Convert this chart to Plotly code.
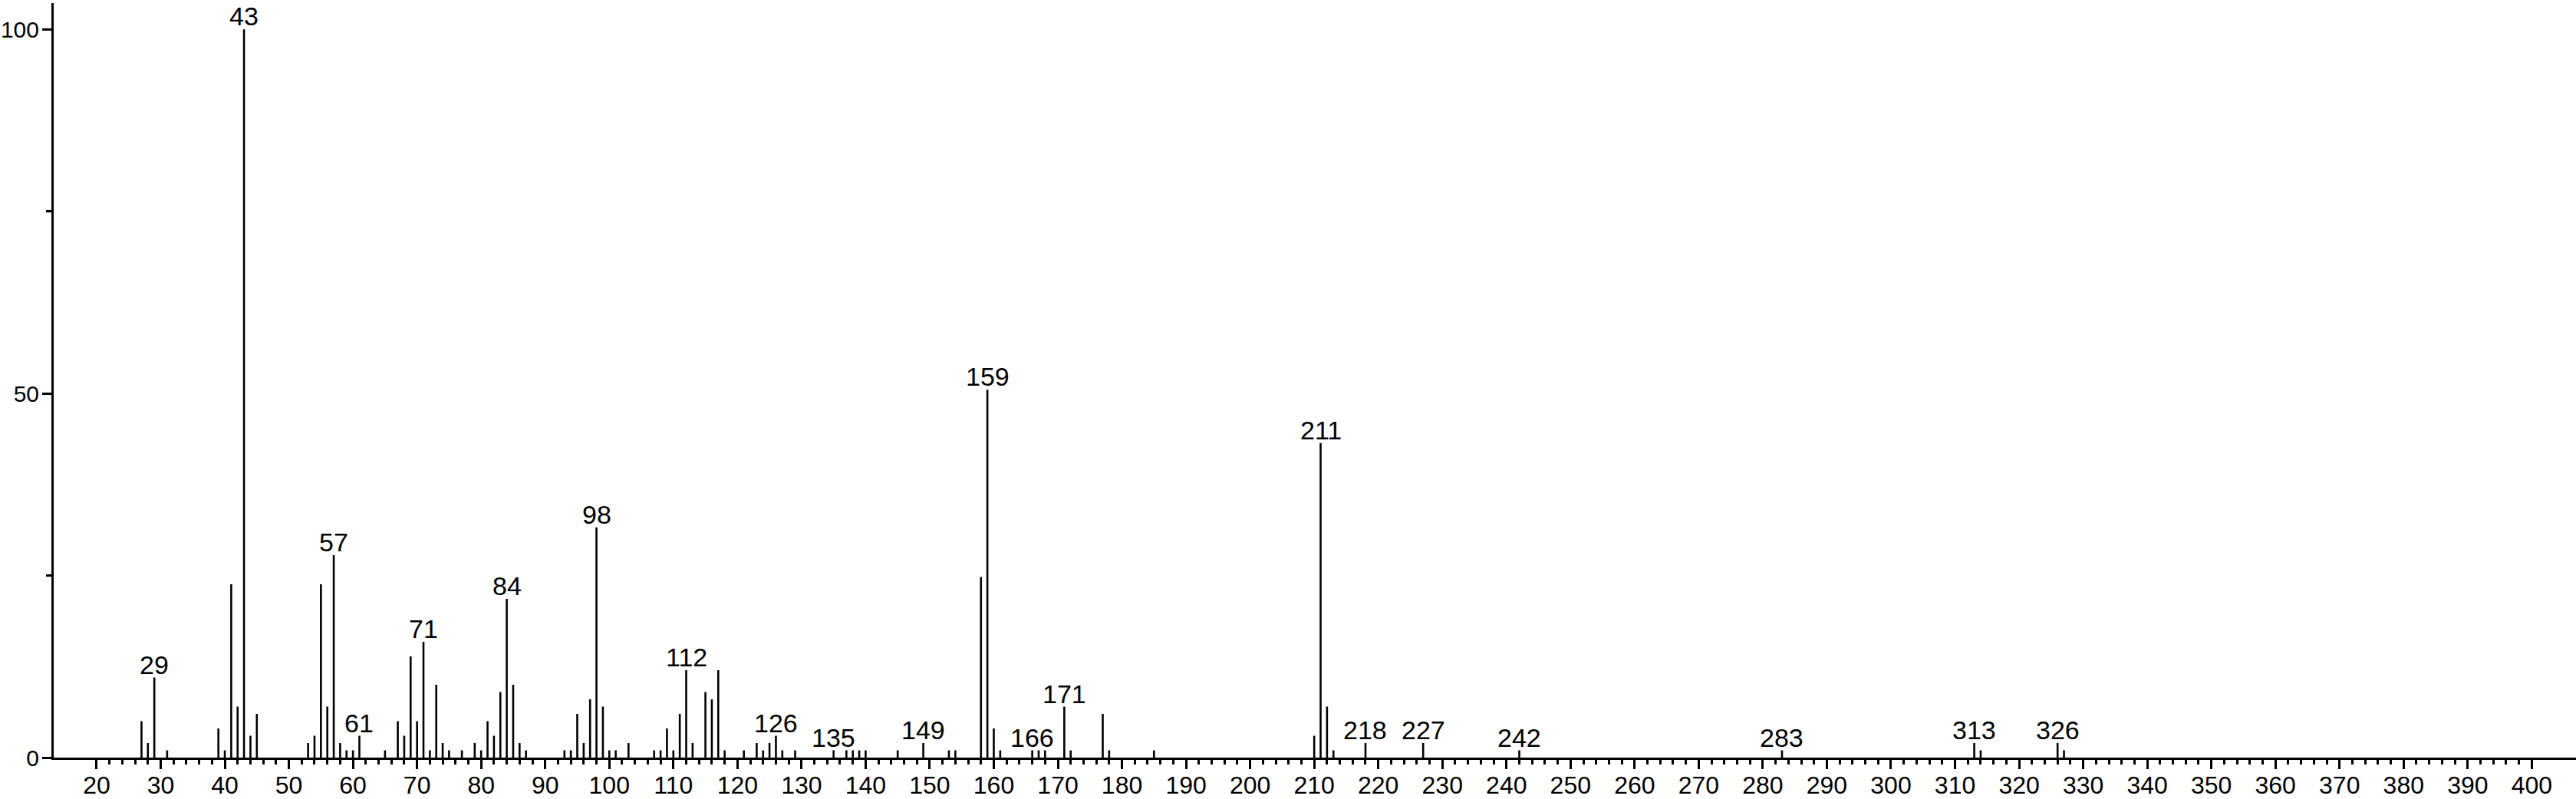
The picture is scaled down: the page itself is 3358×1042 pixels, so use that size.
import plotly.graph_objects as go

# m/z values and relative intensities
mz = [27, 28, 29, 31, 39, 40, 41, 42, 43, 44, 45,
      53, 54, 55, 56, 57, 58, 59, 60, 61, 65, 67, 68, 69, 70, 71, 72, 73, 74, 75,
      77, 79, 80, 81, 82, 83, 84, 85, 86, 87,
      93, 94, 95, 96, 97, 98, 99, 100, 101, 103, 107, 108, 109, 110, 111, 112, 113,
      115, 116, 117, 118, 121, 123, 124, 125, 126, 127, 129,
      135, 137, 138, 139, 140, 145, 149, 153, 154,
      158, 159, 160, 161, 166, 167, 168, 171, 172, 177, 178, 185,
      210, 211, 212, 213, 218, 227, 242, 283, 313, 314, 326, 327]
intensity = [5, 2, 11, 1, 4, 1, 23.8, 7, 100, 3, 6,
             2, 3, 23.8, 7, 27.8, 2, 1, 1, 3, 1, 5, 3, 13.9, 5, 15.9, 1, 10, 2, 1,
             1, 2, 1, 5, 3, 9, 21.8, 10, 2, 1,
             1, 1, 6, 2, 8, 31.6, 7, 1, 1, 2, 1, 1, 4, 1, 6, 12, 2,
             9, 8, 12, 1, 1, 2, 1, 2, 3, 1, 1,
             1, 1, 1, 1, 1, 1, 2, 1, 1,
             24.8, 50.5, 4, 1, 1, 1, 1, 7, 1, 6, 1, 1,
             3, 43.2, 7, 1, 2, 2, 1, 1, 2, 1, 2, 1]
labelled = [29, 43, 57, 61, 71, 84, 98, 112, 126, 135, 149, 159, 166, 171,
            211, 218, 227, 242, 283, 313, 326]

x_major = list(range(20, 401, 10))
x_minor = [v for v in range(22, 400, 2) if v % 10 != 0]
y_major = [0, 50, 100]
y_minor = [25, 75]

FONT = "Liberation Sans, Arial, Helvetica, sans-serif"

xs, ys = [], []
for m, v in zip(mz, intensity):
    xs += [m, m, None]
    ys += [0, v, None]

fig = go.Figure()
fig.add_trace(go.Scatter(x=xs, y=ys, mode="lines",
                         line=dict(color="black", width=2.6),
                         hoverinfo="skip", showlegend=False))

lookup = dict(zip(mz, intensity))
for m in labelled:
    fig.add_annotation(x=m, y=lookup[m], text=str(m), showarrow=False,
                       xanchor="center", yanchor="bottom", yshift=-4,
                       font=dict(family=FONT, size=34, color="black"))

fig.update_layout(
    width=3358, height=1042,
    margin=dict(l=70, r=0, t=4, b=54, pad=0),
    paper_bgcolor="white", plot_bgcolor="white",
    showlegend=False,
    xaxis=dict(range=[13.3, 406.9], showgrid=False, zeroline=False,
               automargin=False,
               showline=True, linecolor="black", linewidth=3,
               ticks="outside", ticklen=12, tickwidth=3, tickcolor="black",
               tickmode="array", tickvals=x_major,
               ticktext=[str(v) for v in x_major],
               ticklabelstandoff=-6,
               tickfont=dict(family=FONT, size=32, color="black"),
               minor=dict(tickmode="array", tickvals=x_minor, ticks="outside",
                          ticklen=6, tickwidth=2.5, tickcolor="black",
                          showgrid=False)),
    yaxis=dict(range=[0, 103.6], showgrid=False, zeroline=False,
               automargin=False,
               showline=True, linecolor="black", linewidth=3,
               ticks="outside", ticklen=12, tickwidth=3, tickcolor="black",
               tickmode="array", tickvals=y_major,
               ticktext=[str(v) for v in y_major],
               ticklabelstandoff=-2,
               tickfont=dict(family=FONT, size=30, color="black"),
               minor=dict(tickmode="array", tickvals=y_minor, ticks="outside",
                          ticklen=7, tickwidth=2.5, tickcolor="black",
                          showgrid=False)),
)

fig.write_html("out.html",
               config={"displayModeBar": False},
               post_script="document.body.style.margin='0';"
                           "document.body.style.overflow='hidden';")
